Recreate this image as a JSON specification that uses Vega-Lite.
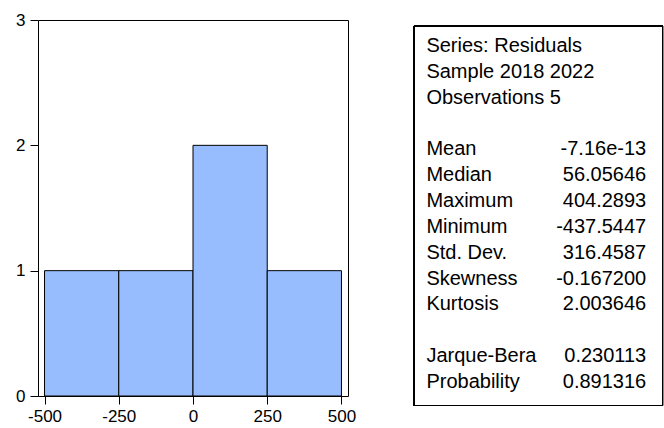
{
  "$schema": "https://vega.github.io/schema/vega-lite/v6.json",
  "background": "white",
  "padding": {"left": 15, "top": 10, "right": 0, "bottom": 0},
  "spacing": 56,
  "config": {
    "font": "Liberation Sans",
    "view": {"stroke": "black", "strokeWidth": 1},
    "axis": {"labelColor": "black", "tickColor": "black", "labelFont": "Liberation Sans", "grid": false, "domain": false, "title": null}
  },
  "datasets": {
    "bins": [
      {"bin_start": -500, "bin_end": -250, "count": 1},
      {"bin_start": -250, "bin_end": 0, "count": 1},
      {"bin_start": 0, "bin_end": 250, "count": 2},
      {"bin_start": 250, "bin_end": 500, "count": 1}
    ],
    "stats": [
      {"row": 0, "label": "Series: Residuals", "value": ""},
      {"row": 1, "label": "Sample 2018 2022", "value": ""},
      {"row": 2, "label": "Observations 5", "value": ""},
      {"row": 4, "label": "Mean", "value": "-7.16e-13"},
      {"row": 5, "label": "Median", "value": "56.05646"},
      {"row": 6, "label": "Maximum", "value": "404.2893"},
      {"row": 7, "label": "Minimum", "value": "-437.5447"},
      {"row": 8, "label": "Std. Dev.", "value": "316.4587"},
      {"row": 9, "label": "Skewness", "value": "-0.167200"},
      {"row": 10, "label": "Kurtosis", "value": "2.003646"},
      {"row": 12, "label": "Jarque-Bera", "value": "0.230113"},
      {"row": 13, "label": "Probability", "value": "0.891316"}
    ]
  },
  "hconcat": [
    {
      "width": 310,
      "height": 376,
      "data": {"name": "bins"},
      "mark": {"type": "bar", "fill": "#97BDFF", "stroke": "black", "strokeWidth": 1},
      "encoding": {
        "x": {
          "field": "bin_start", "type": "quantitative",
          "scale": {"domain": [-522, 522], "nice": false, "zero": false},
          "axis": {"values": [-500, -250, 0, 250, 500], "labelExpr": "'' + datum.value", "labelFontSize": 17, "tickSize": 8, "labelPadding": 4, "labelFlush": false, "labelOverlap": false}
        },
        "x2": {"field": "bin_end"},
        "y": {
          "field": "count", "type": "quantitative",
          "scale": {"domain": [0, 3], "nice": false},
          "axis": {"values": [0, 1, 2, 3], "labelFontSize": 17, "tickSize": 8, "labelPadding": 5, "labelFlush": false, "labelOverlap": false}
        },
        "y2": {"datum": 0}
      }
    },
    {
      "width": 249,
      "height": 386,
      "view": {"stroke": null},
      "data": {"name": "stats"},
      "layer": [
        {
          "mark": {"type": "rect", "filled": false, "stroke": "black", "strokeWidth": 1},
          "encoding": {
            "x": {"datum": -0.0564, "type": "quantitative", "scale": {"domain": [-0.0564, 1.0764], "nice": false, "zero": false}, "axis": null},
            "x2": {"datum": 1.0744},
            "y": {"datum": -0.774, "type": "quantitative", "scale": {"domain": [-1.006, 13.929], "reverse": true, "nice": false, "zero": false}, "axis": null},
            "y2": {"datum": 13.91}
          }
        },
        {
          "mark": {"type": "text", "align": "left", "baseline": "middle", "fontSize": 20, "font": "Liberation Sans", "color": "black"},
          "encoding": {
            "x": {"datum": 0, "type": "quantitative"},
            "y": {"field": "row", "type": "quantitative"},
            "text": {"field": "label"}
          }
        },
        {
          "mark": {"type": "text", "align": "right", "baseline": "middle", "fontSize": 20, "font": "Liberation Sans", "color": "black"},
          "encoding": {
            "x": {"datum": 1, "type": "quantitative"},
            "y": {"field": "row", "type": "quantitative"},
            "text": {"field": "value"}
          }
        }
      ]
    }
  ]
}
